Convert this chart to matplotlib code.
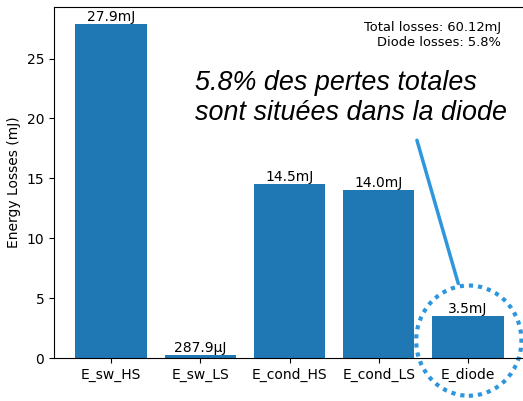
import matplotlib
matplotlib.use("Agg")
import matplotlib.pyplot as plt
from matplotlib.patches import Ellipse

categories = ["E_sw_HS", "E_sw_LS", "E_cond_HS", "E_cond_LS", "E_diode"]
values_mJ = [27.9, 0.2879, 14.5, 14.0, 3.5]
bar_labels = ["27.9mJ", "287.9µJ", "14.5mJ", "14.0mJ", "3.5mJ"]
total_text = "Total losses: 60.12mJ\nDiode losses: 5.8%"
callout_text = "5.8% des pertes totales\nsont situées dans la diode"

W, H = 523, 401
fig = plt.figure(figsize=(W / 100, H / 100), dpi=100)
ax = fig.add_axes([54 / W, (H - 358) / H, (525 - 54) / W, (358 - 7) / H])

bars = ax.bar(categories, values_mJ, color="#1f77b4")
for b, lab in zip(bars, bar_labels):
    ax.text(b.get_x() + b.get_width() / 2, b.get_height(), lab,
            ha="center", va="bottom", fontsize=10)
ax.set_ylabel("Energy Losses (mJ)")
ax.set_ylim(0, 29.3)

fig.text(501 / W, 1 - 21 / H, total_text, ha="right", va="top",
         fontsize=9.4, linespacing=1.15)

fig.text(195 / W, 1 - 98 / H, callout_text, ha="left", va="center",
         fontsize=19.4, style="italic", family="Liberation Sans", linespacing=1.25)

blue = "#2e96dd"
# connector line and dotted ellipse in axes-data coordinates
ax.annotate("", xy=(3.9, 6.0), xytext=(3.42, 18.4),
            arrowprops=dict(arrowstyle="-", color=blue, lw=2.5),
            annotation_clip=False)
ell = Ellipse((4.01, 1.45), width=1.18, height=9.2, fill=False,
              edgecolor=blue, lw=3, linestyle=(0, (1, 1.2)), clip_on=False)
ax.add_patch(ell)

fig.savefig("out.png", dpi=100)
